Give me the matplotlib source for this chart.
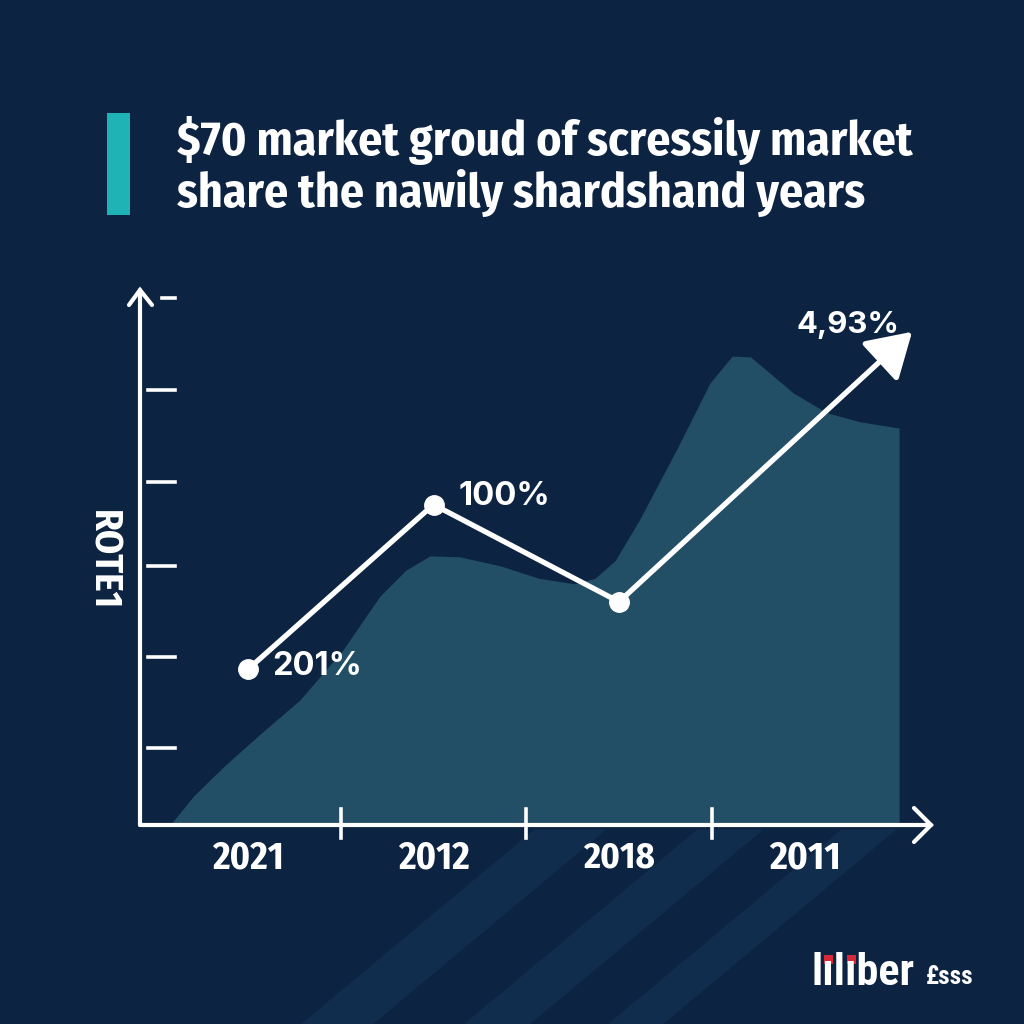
import matplotlib
matplotlib.use("Agg")
import matplotlib.pyplot as plt
from matplotlib.patches import Polygon, Rectangle

# ---------------- data ----------------
years = ["2021", "2012", "2018", "2011"]
line_x = [0, 1, 2]
line_y = [1.73, 3.56, 2.48]
arrow_tip = (3.58, 5.48)
point_labels = ["201%", "100%"]
tip_label = "4,93%"

area_x = [-0.42, -0.29, -0.12, 0.06, 0.28, 0.51, 0.71, 0.85, 0.98, 1.14, 1.36, 1.57,
          1.76, 1.87, 1.98, 2.11, 2.31, 2.49, 2.61, 2.71, 2.94, 3.12, 3.30, 3.51]
area_y = [0.0, 0.33, 0.67, 1.00, 1.39, 1.94, 2.54, 2.83, 2.99, 2.98, 2.88, 2.74,
          2.68, 2.74, 2.94, 3.39, 4.17, 4.91, 5.21, 5.20, 4.80, 4.58, 4.48, 4.41]

title_lines = ["$70 market groud of scressily market",
               "share the nawily shardshand years"]
ylabel = "ROTE1"
logo = "l\u0131l\u0131ber"
logo_small = "\u00a3sss"

# ---------------- style ----------------
BG = "#0c2341"
AREA = "#224f66"
TEAL = "#1fb3b6"
WHITE = "#ffffff"
STRIPE = "#133457"
COND = ["Fira Sans Condensed", "Open Sans", "DejaVu Sans"]
NARROW = ["Roboto Condensed", "Open Sans", "DejaVu Sans"]
GEO = ["Inter", "DejaVu Sans"]

W = H = 1024
fig = plt.figure(figsize=(10.24, 10.24), dpi=100, facecolor=BG)
ax = fig.add_axes([0, 0, 1, 1])
ax.set_facecolor(BG)
x0, sx = 248, 185.5
y0, sy = 825, 90
ax.set_xlim((0 - x0) / sx, (W - x0) / sx)
ax.set_ylim((y0 - H) / sy, (y0 - 0) / sy)
ax.axis("off")

def px(x):
    return (x - x0) / sx
def py(y):
    return (y0 - y) / sy

fig.canvas.draw()
R = fig.canvas.get_renderer()

def fit(t, target_w=None, target_h=None):
    bb = t.get_window_extent(renderer=R)
    if target_w is not None:
        t.set_fontsize(t.get_fontsize() * target_w / bb.width)
    elif target_h is not None:
        t.set_fontsize(t.get_fontsize() * target_h / bb.height)
    return t

# faint diagonal stripes in background (bottom)
for xb, wb in [(294, 72), (457, 66), (601, 55)]:
    dx, dy = 229 * 1.05, 191 * 1.05
    poly = [(px(xb), py(1030)), (px(xb + wb), py(1030)),
            (px(xb + wb + dx), py(1030 - dy)), (px(xb + dx), py(1030 - dy))]
    ax.add_patch(Polygon(poly, closed=True, facecolor=STRIPE, edgecolor="none",
                         alpha=0.6, zorder=0))

# area
ax.fill_between(area_x, area_y, 0, color=AREA, linewidth=0, zorder=1)

# axes with arrowheads
lw_ax = 3.0
ax.plot([px(140), px(140)], [0, py(290)], color=WHITE, lw=lw_ax, solid_capstyle="round", zorder=3)
ax.plot([px(140), px(931)], [0, 0], color=WHITE, lw=lw_ax, solid_capstyle="round", zorder=3)
ax.plot([px(129), px(140), px(152)], [py(305), py(290), py(305)], color=WHITE, lw=lw_ax,
        solid_capstyle="round", solid_joinstyle="miter", zorder=3)
ax.plot([px(914), px(931), px(914)], [py(808), 0, py(842)], color=WHITE, lw=lw_ax,
        solid_capstyle="round", solid_joinstyle="miter", zorder=3)

# y tick marks
ytick_vals = [5.86, 4.83, 3.81, 2.88, 1.87, 0.856]
for i, v in enumerate(ytick_vals):
    xs = px(162) if i == 0 else px(148)
    ax.plot([xs, px(175)], [v, v], color=WHITE, lw=2.6, zorder=3)

# x tick marks between categories
for b in [0.5, 1.5, 2.5]:
    ax.plot([b, b], [py(809), py(838)], color=WHITE, lw=2.6, zorder=3)

# x labels
for i, yr in enumerate(years):
    t = ax.text(i, py(858), yr, color=WHITE, fontsize=20, fontweight="bold",
                family=COND, ha="center", va="center", zorder=4)
    fit(t, target_w=72)

# line + markers
ax.plot(line_x, line_y, color=WHITE, lw=3.8, solid_capstyle="round",
        solid_joinstyle="round", zorder=5)
ax.annotate("", xy=arrow_tip, xytext=(line_x[-1], line_y[-1]),
            arrowprops=dict(arrowstyle="-|>,head_length=0.9,head_width=0.55",
                            color=WHITE, lw=3.8, mutation_scale=30,
                            shrinkA=0, shrinkB=0), zorder=5)
ax.plot(line_x, line_y, "o", color=WHITE, markersize=14, zorder=6)

# point labels
t = ax.text(px(272), py(667), point_labels[0], color=WHITE, fontsize=21, fontweight="bold",
            family=GEO, ha="left", va="center", zorder=6)
fit(t, target_w=90)
t = ax.text(px(459), py(497), point_labels[1], color=WHITE, fontsize=21, fontweight="bold",
            family=GEO, ha="left", va="center", zorder=6)
fit(t, target_w=92)
t = ax.text(px(848), py(325), tip_label, color=WHITE, fontsize=21, fontweight="bold",
            family=GEO, ha="center", va="center", zorder=6)
fit(t, target_w=103)

# y label (rotated)
t = ax.text(px(103), py(560), ylabel, color=WHITE, fontsize=16, fontweight="bold",
            family=COND, rotation=-90, ha="center", va="center", zorder=4)
fit(t, target_h=100)

# title accent bar
fig.patches.append(Rectangle((107 / W, 1 - 215 / H), 23 / W, 102 / H,
                             transform=fig.transFigure, facecolor=TEAL, edgecolor="none"))
# title
t1 = fig.text(177 / W, 1 - 155 / H, title_lines[0], color=WHITE, fontsize=28, fontweight="bold",
              family=COND, ha="left", va="baseline")
fit(t1, target_w=735)
t2 = fig.text(177 / W, 1 - 207 / H, title_lines[1], color=WHITE, fontsize=t1.get_fontsize(),
              fontweight="bold", family=COND, ha="left", va="baseline")

# logo
tl = fig.text(812 / W, 1 - 985 / H, logo, color=WHITE, fontsize=34, fontweight="bold",
              family=NARROW, ha="left", va="baseline")
fit(tl, target_w=103)
ts = fig.text(926 / W, 1 - 984 / H, logo_small, color=WHITE, fontsize=12, fontweight="bold",
              family=NARROW, ha="left", va="baseline")
fit(ts, target_w=48)

# red dots on the i's
fs = tl.get_fontsize()
def width_of(s):
    t = fig.text(0, 0, s, fontsize=fs, fontweight="bold", family=NARROW)
    w = t.get_window_extent(renderer=R).width
    t.remove()
    return w
wl = width_of(logo[:1])
wli = width_of(logo[:2])
wlil = width_of(logo[:3])
wlili = width_of(logo[:4])
for a, b in [(wl, wli), (wlil, wlili)]:
    cx = 812 + (a + b) / 2
    fig.patches.append(Rectangle(((cx - 4.5) / W, 1 - 964 / H), 9 / W, 9 / H,
                                 transform=fig.transFigure, facecolor="#d62839",
                                 edgecolor="none"))

fig.savefig("out.png", dpi=100, facecolor=BG)
